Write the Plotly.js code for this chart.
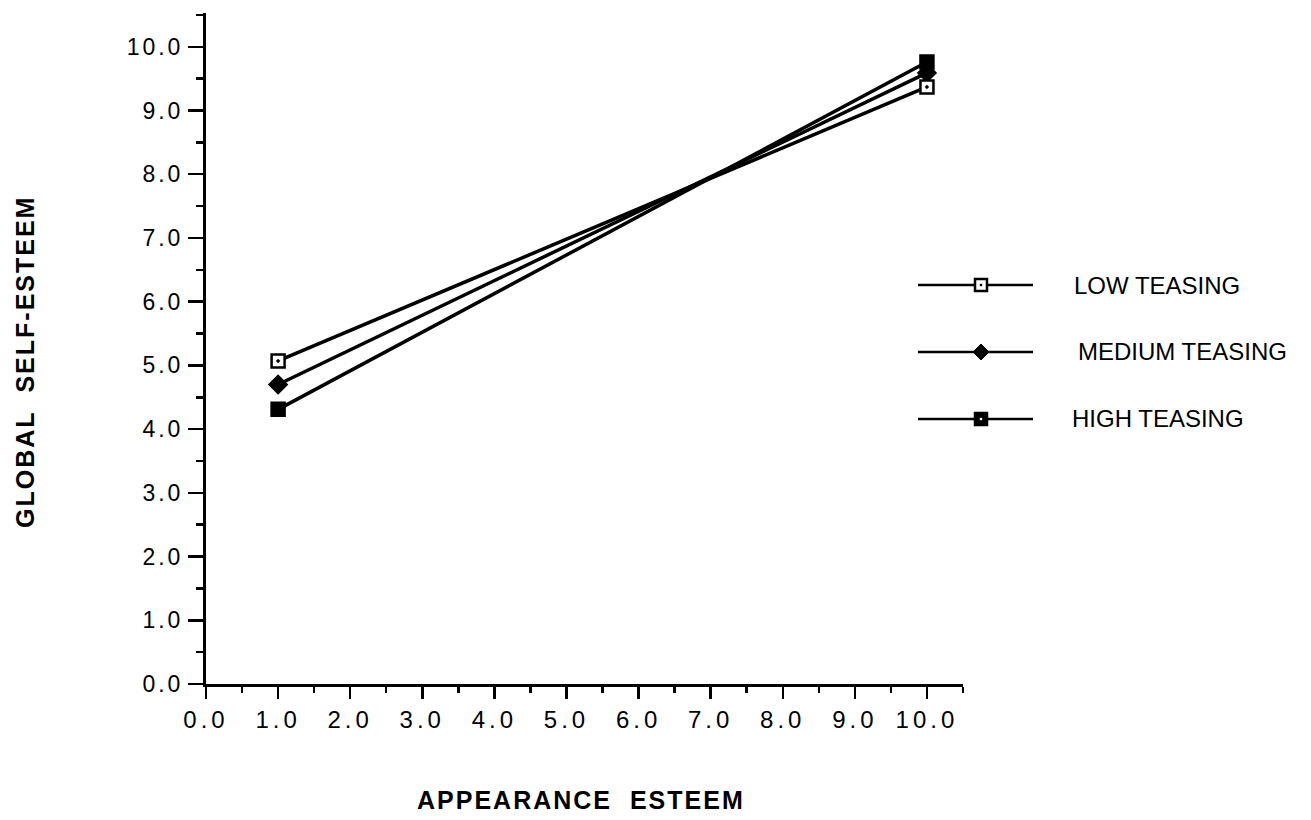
<!DOCTYPE html>
<html>
<head>
<meta charset="utf-8">
<script src="https://cdn.plot.ly/plotly-3.0.1.min.js"></script>
<style>
html,body{margin:0;padding:0;background:#fff;}
#chart{width:1311px;height:820px;}
#chart .xtick text{letter-spacing:4px;}
#chart .ytick text{letter-spacing:3px;}
#chart .annotation.axtitle text{letter-spacing:2px;}
</style>
</head>
<body>
<div id="chart"></div>
<script>
// ---- data ----
const appearanceEsteem = [1.0, 10.0];
const lowTeasing = [5.07, 9.37];
const mediumTeasing = [4.70, 9.59];
const highTeasing = [4.31, 9.76];
const seriesNames = ["LOW TEASING", "MEDIUM TEASING", "HIGH TEASING"];
const tickVals = [0,1,2,3,4,5,6,7,8,9,10];
const tickText = ["0.0","1.0","2.0","3.0","4.0","5.0","6.0","7.0","8.0","9.0","10.0"];

// ---- layout geometry (pixels) ----
const W = 1311, H = 820;
const L = 206, R = 963, T = 13, B = 684;
const px = x => (x - L) / (R - L);
const py = y => (B - y) / (B - T);

const FONT = "Liberation Sans, Arial, sans-serif";
const lineW = 3.5;

function trace(y, name, symbol, fill) {
  return {
    x: appearanceEsteem, y: y, name: name, mode: "lines+markers",
    line: {color: "#000", width: lineW},
    marker: {symbol: symbol, size: 13, color: fill, line: {color: "#000", width: 2.5}},
    showlegend: false, hoverinfo: "skip"
  };
}

const data = [
  trace(highTeasing, seriesNames[2], "square", "#000"),
  trace(mediumTeasing, seriesNames[1], "diamond", "#000"),
  trace(lowTeasing, seriesNames[0], "square-dot", "#fff")
];

// ---- custom legend (shapes + annotations) ----
const legendRows = [
  {y: 285, textX: 1072, kind: "low"},
  {y: 352, textX: 1076, kind: "medium"},
  {y: 419, textX: 1070, kind: "high"}
];
const shapes = [];
const annotations = [];
legendRows.forEach((r, i) => {
  shapes.push({type: "line", xref: "paper", yref: "paper",
    x0: px(918), x1: px(1033), y0: py(r.y), y1: py(r.y),
    line: {color: "#000", width: 2.5}});
  const cx = px(981), cy = py(r.y);
  if (r.kind === "medium") {
    shapes.push({type: "path", xref: "paper", yref: "paper",
      xsizemode: "pixel", ysizemode: "pixel", xanchor: cx, yanchor: cy,
      path: "M -8 0 L 0 -8 L 8 0 L 0 8 Z",
      fillcolor: "#000", line: {color: "#000", width: 1}});
  } else {
    shapes.push({type: "rect", xref: "paper", yref: "paper",
      xsizemode: "pixel", ysizemode: "pixel", xanchor: cx, yanchor: cy,
      x0: -6, x1: 6, y0: -6, y1: 6,
      fillcolor: r.kind === "low" ? "#fff" : "#000", line: {color: "#000", width: 2.5}});
    shapes.push({type: "rect", xref: "paper", yref: "paper",
      xsizemode: "pixel", ysizemode: "pixel", xanchor: cx, yanchor: cy,
      x0: -1.2, x1: 1.2, y0: -1.2, y1: 1.2,
      fillcolor: r.kind === "low" ? "#000" : "#fff", line: {width: 0}});
  }
  annotations.push({xref: "paper", yref: "paper", x: px(r.textX), y: py(r.y),
    xanchor: "left", yanchor: "middle", showarrow: false,
    text: seriesNames[i], font: {family: FONT, size: 24, color: "#000"}});
});

// axis titles
annotations.push({xref: "paper", yref: "paper", x: px(581), y: py(800),
  xanchor: "center", yanchor: "middle", showarrow: false, name: "xt",
  text: "APPEARANCE\u00a0\u00a0ESTEEM",
  font: {family: FONT, size: 25, color: "#000", weight: "bold"}});
annotations.push({xref: "paper", yref: "paper", x: px(25), y: py(362),
  xanchor: "center", yanchor: "middle", showarrow: false, textangle: -90, name: "yt",
  text: "GLOBAL\u00a0\u00a0SELF-ESTEEM",
  font: {family: FONT, size: 25, color: "#000", weight: "bold"}});

const axisCommon = {
  showgrid: false, zeroline: false, showline: true, linecolor: "#000", linewidth: 3,
  ticks: "outside", tickcolor: "#000", tickwidth: 2.5,
  tickvals: tickVals, ticktext: tickText,
  fixedrange: true
};

const layout = {
  width: W, height: H,
  margin: {l: L, r: W - R, t: T, b: H - B},
  paper_bgcolor: "#fff", plot_bgcolor: "#fff",
  showlegend: false,
  xaxis: Object.assign({}, axisCommon, {
    range: [0, 10.5], ticklen: 12,
    tickfont: {family: FONT, size: 24, color: "#000"},
    minor: {dtick: 0.5, tick0: 0, ticks: "outside", ticklen: 6, tickwidth: 2.5, tickcolor: "#000", showgrid: false}
  }),
  yaxis: Object.assign({}, axisCommon, {
    range: [0, 10.53], ticklen: 15, ticklabelstandoff: 0,
    tickfont: {family: FONT, size: 23, color: "#000"},
    minor: {dtick: 0.5, tick0: 0, ticks: "outside", ticklen: 7, tickwidth: 2.5, tickcolor: "#000", showgrid: false}
  }),
  shapes: shapes,
  annotations: annotations
};

Plotly.newPlot("chart", data, layout, {displayModeBar: false, staticPlot: true}).then(gd => {
  // add letter-spacing class to the axis-title annotations
  gd.querySelectorAll(".annotation").forEach(a => {
    const t = a.textContent || "";
    if (t.indexOf("ESTEEM") >= 0) a.classList.add("axtitle");
  });
});
</script>
</body>
</html>
